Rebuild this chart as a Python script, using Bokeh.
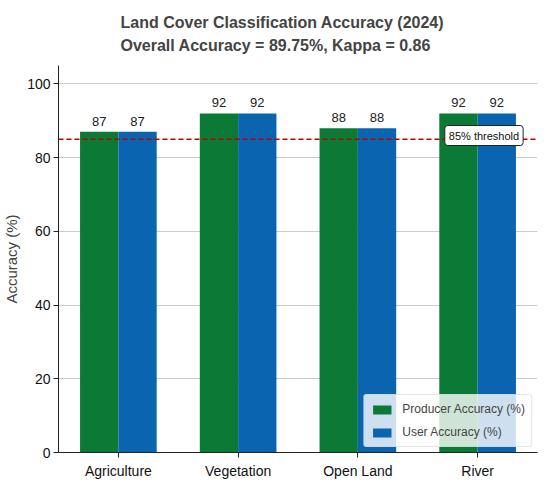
from bokeh.plotting import figure
from bokeh.models import (FixedTicker, Span, Label, Legend, LegendItem,
                          ColumnDataSource, LabelSet)
from bokeh.core.properties import value
from bokeh.embed import file_html
from bokeh.resources import INLINE

categories = ["Agriculture", "Vegetation", "Open Land", "River"]
producer_acc = [87, 92, 88, 92]
user_acc = [87, 92, 88, 92]
threshold = 85
y_ticks = [0, 20, 40, 60, 80, 100]
title_1 = "Land Cover Classification Accuracy (2024)"
title_2 = "Overall Accuracy = 89.75%, Kappa = 0.86"

FONT = "Liberation Sans"
GREEN = "#0a7a36"
BLUE = "#0a64b0"
bw = 0.32

idx = list(range(len(categories)))
src_p = ColumnDataSource(dict(x=[i - bw / 2 for i in idx], top=producer_acc,
                              lab=[str(v) for v in producer_acc]))
src_u = ColumnDataSource(dict(x=[i + bw / 2 for i in idx], top=user_acc,
                              lab=[str(v) for v in user_acc]))

p = figure(width=545, height=481, x_range=(-0.5, 3.5), y_range=(0, 105),
           output_backend="svg", toolbar_location=None,
           min_border_left=55, min_border_right=8, min_border_top=63,
           min_border_bottom=28)
p.title.text = title_1 + "\n" + title_2
p.title.align = "left"
p.title.offset = 62
p.title.text_font = FONT
p.title.text_font_size = "16px"
p.title.text_font_style = "bold"
p.title.text_line_height = 1.35
p.title.standoff = 23

r1 = p.vbar(x="x", top="top", width=bw, source=src_p, fill_color=GREEN,
            line_color=None)
r2 = p.vbar(x="x", top="top", width=bw, source=src_u, fill_color=BLUE,
            line_color=None)

for s in (src_p, src_u):
    p.add_layout(LabelSet(x="x", y="top", text="lab", source=s, y_offset=6,
                          text_align="center", text_baseline="bottom",
                          text_font=value(FONT), text_font_size="13px",
                          text_color="#222222"))

p.add_layout(Span(location=threshold, dimension="width", line_color="#c00000",
                  line_dash="5 3", line_width=1.5))
p.add_layout(Label(x=3.38, y=threshold + 1.0, text="85% threshold",
                   text_align="right", text_baseline="middle",
                   text_font=FONT, text_font_size="11px", text_color="#111111",
                   background_fill_color="white", border_line_color="#222222",
                   border_line_width=1, padding=4, border_radius=3))

legend = Legend(items=[LegendItem(label="Producer Accuracy (%)", renderers=[r1]),
                       LegendItem(label="User Accuracy (%)", renderers=[r2])],
                location="bottom_right")
legend.label_text_font = FONT
legend.label_text_font_size = "12px"
legend.glyph_width = 23
legend.glyph_height = 11
legend.label_height = 16
legend.label_standoff = 9
legend.spacing = 7
legend.padding = 6
legend.margin = 5
legend.background_fill_alpha = 0.8
legend.border_line_color = "#cccccc"
legend.border_radius = 3
p.add_layout(legend)

p.xaxis.ticker = FixedTicker(ticks=idx)
p.xaxis.major_label_overrides = {i: c for i, c in zip(idx, categories)}
p.yaxis.ticker = FixedTicker(ticks=y_ticks)
p.yaxis.axis_label = "Accuracy (%)"
p.yaxis.axis_label_text_font = FONT
p.yaxis.axis_label_text_font_size = "15px"
p.yaxis.axis_label_text_font_style = "normal"
p.yaxis.axis_label_standoff = 4
for ax in (p.xaxis, p.yaxis):
    ax.major_label_text_font = FONT
    ax.major_label_text_font_size = "14px"
    ax.major_label_text_color = "#111111"
    ax.axis_line_color = "#222222"
    ax.major_tick_line_color = "#222222"
    ax.major_tick_out = 5
    ax.major_tick_in = 0
    ax.minor_tick_line_color = None
    ax.major_label_standoff = 3
p.xaxis.major_label_standoff = 5
p.xaxis.axis_label_standoff = 0

p.xgrid.grid_line_color = None
p.ygrid.grid_line_color = "#cccccc"
p.ygrid.grid_line_width = 1
p.outline_line_color = None

open("out.html", "w").write(file_html(p, INLINE))
